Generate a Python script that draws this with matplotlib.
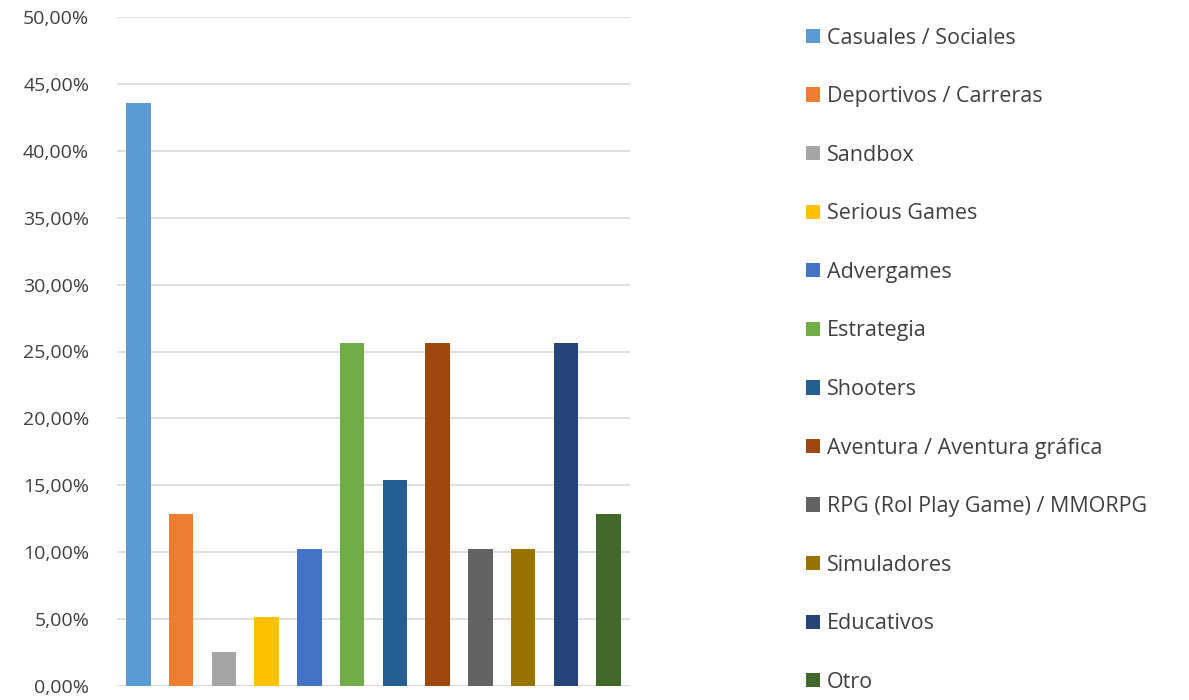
import matplotlib.pyplot as plt
from matplotlib.patches import Patch
from matplotlib.ticker import FuncFormatter

categories = [
    "Casuales / Sociales",
    "Deportivos / Carreras",
    "Sandbox",
    "Serious Games",
    "Advergames",
    "Estrategia",
    "Shooters",
    "Aventura / Aventura gráfica",
    "RPG (Rol Play Game) / MMORPG",
    "Simuladores",
    "Educativos",
    "Otro",
]
values = [43.59, 12.82, 2.56, 5.13, 10.26, 25.64, 15.38, 25.64, 10.26, 10.26, 25.64, 12.82]
colors = [
    "#5B9BD5", "#ED7D31", "#A5A5A5", "#FFC000", "#4472C4", "#70AD47",
    "#255E91", "#9E480E", "#636363", "#997300", "#264478", "#43682B",
]
yticks = [0, 5, 10, 15, 20, 25, 30, 35, 40, 45, 50]

plt.rcParams["font.family"] = ["Open Sans", "DejaVu Sans"]

fig = plt.figure(figsize=(11.89, 7.0), dpi=100)
ax = fig.add_axes([117 / 1189, 14 / 700, 513 / 1189, 669 / 700])

x = list(range(len(values)))
ax.bar(x, values, width=0.57, color=colors, zorder=3)

ax.set_xlim(-0.5, len(values) - 0.5)
ax.set_ylim(0, 50)
ax.set_yticks(yticks)
ax.yaxis.set_major_formatter(FuncFormatter(lambda v, _: f"{v:.2f}%".replace(".", ",")))
ax.set_xticks([])
ax.tick_params(axis="y", length=0, pad=20, labelsize=14, labelcolor="#404040")
ax.grid(axis="y", color="#d9d9d9", linewidth=1.2, zorder=0)
for s in ax.spines.values():
    s.set_visible(False)

handles = [Patch(facecolor=c, edgecolor="none") for c in colors]
fig.legend(
    handles, categories,
    loc="upper left", bbox_to_anchor=(797 / 1189, 1 - 19 / 700),
    frameon=False, fontsize=15.5, handlelength=0.65, handleheight=0.65,
    handletextpad=0.33, labelspacing=1.745, borderaxespad=0,
    labelcolor="#404040",
)

fig.savefig("out.png", dpi=100)
